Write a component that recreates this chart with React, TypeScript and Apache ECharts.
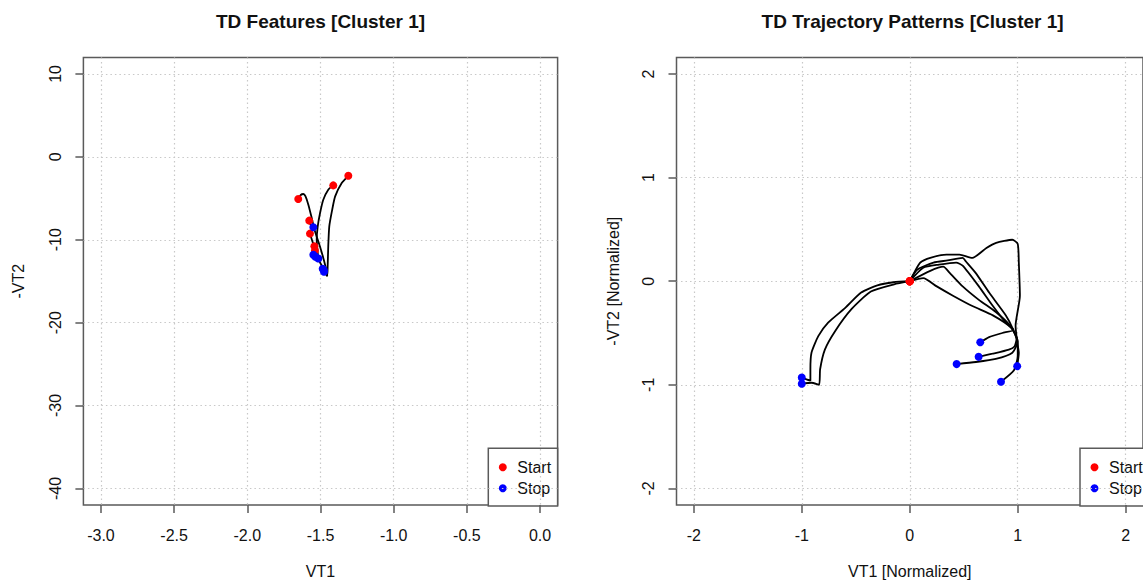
import React, { useEffect, useRef } from "react";
import * as echarts from "echarts";

// ---------- Data ----------
const titleFeatures = "TD Features [Cluster 1]";
const titleNormalized = "TD Trajectory Patterns [Cluster 1]";

// Left panel: raw TD feature trajectories (VT1, -VT2)
const featTraj1 = [[-1.652, -5.08], [-1.635, -4.6], [-1.617, -4.48], [-1.603, -4.75], [-1.583, -5.77], [-1.56, -7.37], [-1.538, -8.98], [-1.508, -10.58], [-1.481, -12.19], [-1.458, -13.8], [-1.454, -14.4], [-1.466, -14.1], [-1.476, -13.87]];
const featTraj2 = [[-1.31, -2.28], [-1.355, -3.16], [-1.4, -4.77], [-1.42, -6.37], [-1.44, -8.38], [-1.447, -10.79], [-1.451, -13.2], [-1.454, -14.3], [-1.47, -13.9], [-1.485, -13.5]];
const featTraj3 = [[-1.413, -3.44], [-1.447, -3.96], [-1.481, -5.17], [-1.503, -6.77], [-1.519, -8.38], [-1.526, -9.98], [-1.52, -11.4], [-1.515, -12.27]];
const featTraj4 = [[-1.577, -7.69], [-1.57, -8.1], [-1.549, -8.5]];
const featTraj5 = [[-1.572, -9.26], [-1.555, -10.2], [-1.54, -11.0], [-1.549, -11.8]];
const featTraj6 = [[-1.542, -10.78], [-1.525, -11.5], [-1.53, -11.9], [-1.535, -12.05]];
const featTraj7 = [[-1.538, -11.3], [-1.52, -12.2], [-1.495, -13.0], [-1.478, -13.65]];
const featTrajs = [featTraj1, featTraj2, featTraj3, featTraj4, featTraj5, featTraj6, featTraj7];

// Right panel: normalized trajectories
const normTraj1 = [[0, 0], [-0.15, -0.01], [-0.3, -0.04], [-0.45, -0.11], [-0.6, -0.26], [-0.756, -0.4], [-0.847, -0.53], [-0.91, -0.69], [-0.92, -0.85], [-0.92, -0.96], [-0.95, -0.95], [-1.0, -0.93]];
const normTraj2 = [[0, 0], [-0.145, -0.03], [-0.36, -0.1], [-0.54, -0.27], [-0.69, -0.48], [-0.786, -0.66], [-0.83, -0.85], [-0.84, -1.0], [-0.91, -0.98], [-1.0, -0.99]];
const normTraj3 = [[0, 0], [0.05, 0.1], [0.098, 0.18], [0.19, 0.225], [0.34, 0.256], [0.46, 0.256], [0.58, 0.225], [0.71, 0.32], [0.8, 0.37], [0.95, 0.4], [1.0, 0.36], [1.01, 0.18], [1.02, -0.14], [0.98, -0.43], [0.995, -0.59], [1.01, -0.69], [0.995, -0.82]];
const normTraj4 = [[0, 0], [0.068, 0.11], [0.22, 0.18], [0.35, 0.2], [0.49, 0.225], [0.52, 0.19], [0.61, 0.08], [0.735, -0.11], [0.89, -0.33], [0.95, -0.45], [1.0, -0.6], [1.0, -0.72], [0.965, -0.86], [0.845, -0.97]];
const normTraj5 = [[0, 0], [0.125, 0.13], [0.27, 0.16], [0.43, 0.18], [0.49, 0.15], [0.64, -0.05], [0.77, -0.24], [0.89, -0.4], [0.96, -0.47], [0.857, -0.5], [0.735, -0.54], [0.653, -0.59]];
const normTraj6 = [[0, 0], [0.19, 0.1], [0.31, 0.14], [0.37, 0.08], [0.49, -0.05], [0.64, -0.18], [0.8, -0.3], [0.93, -0.43], [0.99, -0.55], [0.97, -0.63], [0.918, -0.66], [0.766, -0.7], [0.638, -0.73]];
const normTraj7 = [[0, 0], [0.125, 0.03], [0.25, -0.05], [0.4, -0.14], [0.58, -0.24], [0.77, -0.33], [0.94, -0.45], [1.0, -0.58], [0.95, -0.69], [0.797, -0.75], [0.613, -0.78], [0.434, -0.8]];
const normTrajs = [normTraj1, normTraj2, normTraj3, normTraj4, normTraj5, normTraj6, normTraj7];

// Axis ticks
const featXTicks = [-3.0, -2.5, -2.0, -1.5, -1.0, -0.5, 0.0];
const featYTicks = [-40, -30, -20, -10, 0, 10];
const normXTicks = [-2, -1, 0, 1, 2];
const normYTicks = [-2, -1, 0, 1, 2];

const legendLabels = ["Start", "Stop"];

// ---------- Styles ----------
const FONT = "Liberation Sans, Arial, sans-serif";
const TEXT = "#111";
const FRAME = "#5a5a5a";
const START_COLOR = "#ff0000";
const STOP_COLOR = "#0000ff";

function axisCommon(ticks: number[], fmt: (v: number) => string, isY: boolean, name: string, nameGap: number) {
  return {
    type: "value",
    name,
    nameLocation: "middle",
    nameGap,
    nameTextStyle: { fontSize: 16, color: TEXT, fontFamily: FONT },
    axisLine: { show: false, onZero: false },
    axisTick: {
      show: true,
      inside: false,
      length: 8,
      customValues: ticks,
      lineStyle: { color: FRAME, width: 1.5 },
    },
    axisLabel: {
      customValues: ticks,
      formatter: (v: number) => fmt(v),
      fontSize: 16,
      color: TEXT,
      fontFamily: FONT,
      margin: isY ? 20 : 22,
      rotate: isY ? 90 : 0,
    },
    splitLine: { show: true, lineStyle: { type: [1.5, 3], color: "#c8c8c8", width: 1.2 } },
  };
}

function legendGraphic(x: number, y: number, w: number, h: number) {
  return {
    type: "group",
    z: 100,
    children: [
      { type: "rect", shape: { x, y, width: w, height: h }, style: { fill: "#fff", stroke: FRAME, lineWidth: 1.5 } },
      { type: "circle", shape: { cx: x + 14.5, cy: y + 19, r: 4 }, style: { fill: START_COLOR } },
      { type: "circle", shape: { cx: x + 14.5, cy: y + 40, r: 4 }, style: { fill: STOP_COLOR } },
      { type: "text", x: x + 29, y: y + 19, style: { text: legendLabels[0], fontSize: 16, fontFamily: FONT, fill: TEXT, verticalAlign: "middle" } },
      { type: "text", x: x + 29, y: y + 40, style: { text: legendLabels[1], fontSize: 16, fontFamily: FONT, fill: TEXT, verticalAlign: "middle" } },
    ],
  };
}

export default function App() {
  const ref = useRef<HTMLDivElement>(null);
  useEffect(() => {
    if (!ref.current) return;
    const chart = echarts.init(ref.current, undefined, { renderer: "svg" });

    const lineSeries = (trajs: number[][][], idx: number) =>
      trajs.map((t) => ({
        type: "line",
        xAxisIndex: idx,
        yAxisIndex: idx,
        data: t,
        symbol: "none",
        showSymbol: false,
        smooth: 0.2,
        silent: true,
        lineStyle: { color: "#000", width: 1.8 },
        z: 2,
      }));
    const pointSeries = (trajs: number[][][], idx: number, which: "start" | "stop") => ({
      type: "scatter",
      xAxisIndex: idx,
      yAxisIndex: idx,
      data: trajs.map((t) => (which === "start" ? t[0] : t[t.length - 1])),
      symbol: "circle",
      symbolSize: 8,
      silent: true,
      itemStyle: { color: which === "start" ? START_COLOR : STOP_COLOR, opacity: 1 },
      z: which === "start" ? 3 : 4,
    });

    const option = {
      animation: false,
      backgroundColor: "#fff",
      grid: [
        { left: 83.4, top: 57.4, width: 474.2, height: 448.5, show: true, borderColor: FRAME, borderWidth: 1.5, backgroundColor: "transparent", containLabel: false },
        { left: 676.5, top: 57.4, width: 472.2, height: 448.5, show: true, borderColor: FRAME, borderWidth: 1.5, backgroundColor: "transparent", containLabel: false },
      ],
      xAxis: [
        { gridIndex: 0, min: -3.12, max: 0.12, ...axisCommon(featXTicks, (v) => v.toFixed(1), false, "VT1", 58) },
        { gridIndex: 1, min: -2.16, max: 2.16, ...axisCommon(normXTicks, (v) => String(v), false, "VT1 [Normalized]", 58) },
      ],
      yAxis: [
        { gridIndex: 0, min: -42, max: 12, ...axisCommon(featYTicks, (v) => String(v), true, "-VT2", 57) },
        { gridIndex: 1, min: -2.16, max: 2.16, ...axisCommon(normYTicks, (v) => String(v), true, "-VT2 [Normalized]", 55) },
      ],
      series: [
        ...lineSeries(featTrajs, 0),
        pointSeries(featTrajs, 0, "start"),
        pointSeries(featTrajs, 0, "stop"),
        ...lineSeries(normTrajs, 1),
        pointSeries(normTrajs, 1, "start"),
        pointSeries(normTrajs, 1, "stop"),
      ],
      graphic: [
        { type: "text", x: 320.5, y: 21, style: { text: titleFeatures, fontSize: 19, fontWeight: "bold", fontFamily: FONT, fill: TEXT, align: "center", verticalAlign: "middle" } },
        { type: "text", x: 912.6, y: 21, style: { text: titleNormalized, fontSize: 19, fontWeight: "bold", fontFamily: FONT, fill: TEXT, align: "center", verticalAlign: "middle" } },
        legendGraphic(488.3, 448.3, 69.3, 57.6),
        legendGraphic(1080, 448.3, 69.3, 57.6),
      ],
    };
    chart.setOption(option as any);
    return () => chart.dispose();
  }, []);

  return <div ref={ref} style={{ position: "absolute", left: 0, top: 0, width: 1143, height: 584 }} />;
}
